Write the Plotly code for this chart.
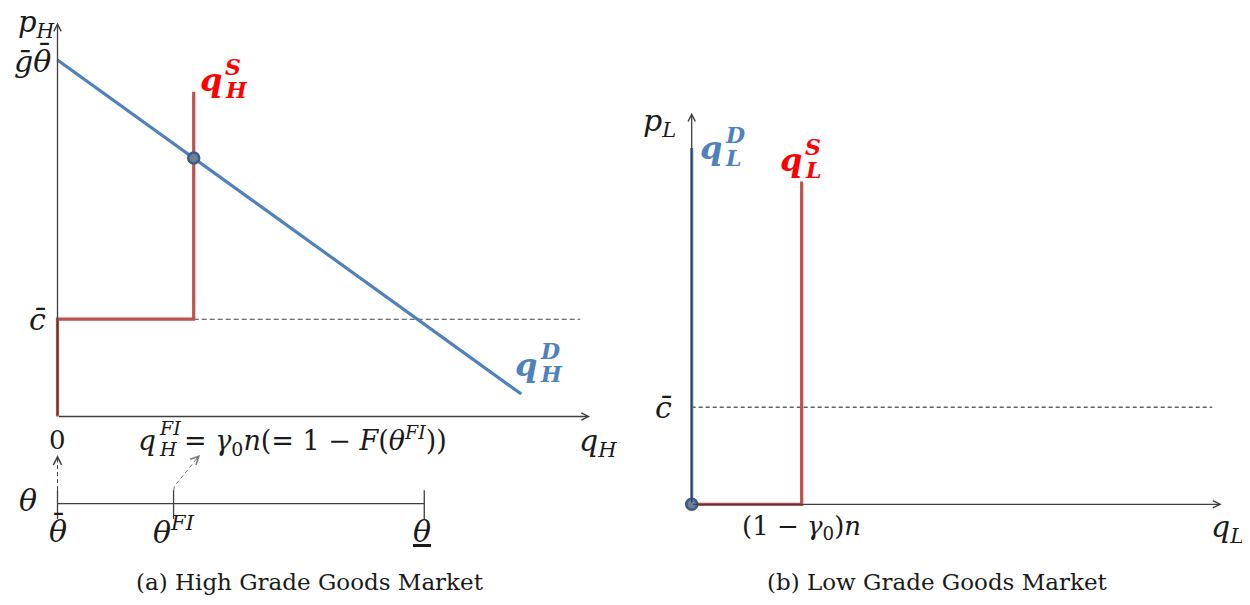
import plotly.graph_objects as go

# ---------------- Panel (a): High grade goods market ----------------
axis_len_a = 10.0            # length of q_H and p_H axes (data units)
g_theta_bar = 9.05           # demand intercept  g-bar * theta-bar
demand_end_q = 8.75          # end of drawn demand line
demand_end_p = 0.57
c_bar_a = 2.47               # cost level c-bar
q_fi = 2.57                  # q_H^FI = gamma0 n
supply_top_a = 8.24
dash_end_a = 9.86
eq_p_a = g_theta_bar - q_fi * (g_theta_bar - demand_end_p) / demand_end_q

# theta line under panel (a)
theta_line_y = -2.21
theta_tick_lo, theta_tick_hi = -2.60, -1.87
theta_bar_pos = 0.0
theta_fi_pos = 2.19
theta_low_pos = 6.92

# ---------------- Panel (b): Low grade goods market ----------------
axis_len_b = 10.0
demand_top_b = 9.10
supply_q_b = 2.075           # (1 - gamma0) n
supply_top_b = 8.24
c_bar_b = 2.48
dash_end_b = 9.82

RED = "#C0504D"
BLUE = "#4F81BD"
AX = "#404040"
TXT = "#1a1a1a"
MATH = "DejaVu Serif"
CAP = "DejaVu Serif"

fig = go.Figure()

# --- panel a traces ---
fig.add_trace(go.Scatter(x=[q_fi, dash_end_a], y=[c_bar_a, c_bar_a], mode="lines",
                         line=dict(color="#444444", width=1.1, dash="5px,3px"), xaxis="x", yaxis="y"))
fig.add_trace(go.Scatter(x=[0, demand_end_q], y=[g_theta_bar, demand_end_p], mode="lines",
                         line=dict(color=BLUE, width=3.2), xaxis="x", yaxis="y"))
fig.add_trace(go.Scatter(x=[0, 0, q_fi, q_fi], y=[0, c_bar_a, c_bar_a, supply_top_a], mode="lines",
                         line=dict(color=RED, width=3.2), xaxis="x", yaxis="y"))
fig.add_trace(go.Scatter(x=[q_fi], y=[eq_p_a], mode="markers",
                         marker=dict(size=11, color="#6f7f94", line=dict(color="#3b5b8c", width=2.5)),
                         xaxis="x", yaxis="y"))
# theta line and ticks
fig.add_trace(go.Scatter(x=[theta_bar_pos, theta_low_pos], y=[theta_line_y, theta_line_y], mode="lines",
                         line=dict(color=AX, width=1.3), xaxis="x", yaxis="y"))
for tp in [theta_bar_pos, theta_fi_pos, theta_low_pos]:
    fig.add_trace(go.Scatter(x=[tp, tp], y=[theta_tick_lo, theta_tick_hi], mode="lines",
                             line=dict(color=AX, width=1.3), xaxis="x", yaxis="y"))
# dashed pointer lines
ptr1_x, ptr1_y = [0.0, 0.0], [-1.87, -1.05]
ptr2_x, ptr2_y = [theta_fi_pos, 2.21, 2.64], [-1.87, -1.76, -1.05]
fig.add_trace(go.Scatter(x=ptr1_x, y=ptr1_y, mode="lines",
                         line=dict(color="#444444", width=1, dash="4px,3px"), xaxis="x", yaxis="y"))
fig.add_trace(go.Scatter(x=ptr2_x, y=ptr2_y, mode="lines",
                         line=dict(color="#777777", width=1, dash="4px,3px"), xaxis="x", yaxis="y"))

# --- panel b traces ---
fig.add_trace(go.Scatter(x=[0, dash_end_b], y=[c_bar_b, c_bar_b], mode="lines",
                         line=dict(color="#111111", width=1, dash="4px,3px"), xaxis="x2", yaxis="y2"))
fig.add_trace(go.Scatter(x=[0, supply_q_b, supply_q_b], y=[0, 0, supply_top_b], mode="lines",
                         line=dict(color=RED, width=3.2), xaxis="x2", yaxis="y2"))
fig.add_trace(go.Scatter(x=[0, 0], y=[0, demand_top_b], mode="lines",
                         line=dict(color=BLUE, width=3.2), xaxis="x2", yaxis="y2"))
fig.add_trace(go.Scatter(x=[0], y=[0], mode="markers",
                         marker=dict(size=11, color="#6f7f94", line=dict(color="#3b5b8c", width=2.5)),
                         xaxis="x2", yaxis="y2"))

ann = []
def arrow(xr, yr, x0, y0, x1, y1, color=AX, width=1.3, size=1.1):
    ann.append(dict(xref=xr, yref=yr, axref=xr, ayref=yr, x=x1, y=y1, ax=x0, ay=y0,
                    showarrow=True, arrowhead=5, arrowsize=size, arrowwidth=width,
                    arrowcolor=color, standoff=0, startstandoff=0, text=""))

# axes (drawn with arrowheads)
arrow("x", "y", 0, 0, axis_len_a + 0.05, 0)
arrow("x", "y", 0, 0, 0, axis_len_a)
arrow("x2", "y2", 0, 0, axis_len_b, 0)
arrow("x2", "y2", 0, 0, 0, axis_len_b)
# heads of dashed pointers
arrow("x", "y", 0, -1.2, 0, -0.98, color="#444444", width=1, size=1.6)
arrow("x", "y", 2.58, -1.13, 2.69, -0.98, color="#777777", width=1, size=1.6)

def label(xr, yr, x, y, text, size=28, color=TXT, xanchor="center", yanchor="middle",
          xshift=0, yshift=0, family=MATH):
    ann.append(dict(xref=xr, yref=yr, x=x, y=y, text=text, showarrow=False,
                    xanchor=xanchor, yanchor=yanchor, xshift=xshift, yshift=yshift,
                    borderpad=0, font=dict(family=family, size=size, color=color)))

def stacked(xr, yr, x, y, base, sub, sup, size=30, color=TXT, bold=False):
    """Base letter with stacked subscript / superscript to its right."""
    wrap = (lambda s: "<b><i>%s</i></b>" % s) if bold else (lambda s: "<i>%s</i>" % s)
    label(xr, yr, x, y, wrap(base), size, color, xanchor="right", xshift=0)
    if sub:
        label(xr, yr, x, y, wrap(sub), round(size * 0.68), color, xanchor="left",
              xshift=1, yshift=-size * 0.30)
    if sup:
        label(xr, yr, x, y, wrap(sup), round(size * 0.68), color, xanchor="left",
              xshift=1, yshift=size * 0.42)

def macron(xr, yr, x, y, size=30, xshift=0, yshift=6):
    label(xr, yr, x, y, "¯", size, xanchor="center", xshift=xshift, yshift=yshift)

# panel a labels
label("x", "y", -0.39, 9.95, "<i>p<sub>H</sub></i>", 29)
label("x", "y", -0.10, 9.0, "<i>g\u0304θ</i>", 30, xanchor="right")
macron("x", "y", -0.10, 9.0, 30, xshift=-8, yshift=7)
label("x", "y", -0.38, 2.45, "<i>c\u0304</i>", 30)
label("x", "y", 0.0, -0.6, "0", 26)
stacked("x", "y", 1.88, -0.6, "q", "H", "FI", 28)
label("x", "y", 1.88, -0.6, "= <i>γ</i><sub>0</sub><i>n</i>(= 1 − <i>F</i>(<i>θ<sup>FI</sup></i>))",
      27, xanchor="left", xshift=26)
label("x", "y", 10.2, -0.65, "<i>q<sub>H</sub></i>", 30)
label("x", "y", -0.56, -2.12, "<i>θ</i>", 30)
label("x", "y", 0.0, -2.93, "<i>θ</i>", 30)
macron("x", "y", 0.0, -2.93, 30, xshift=1, yshift=7)
label("x", "y", 2.2, -2.9, "<i>θ<sup>FI</sup></i>", 30)
label("x", "y", 6.88, -2.93, "<i><u>θ</u></i>", 30)
stacked("x", "y", 3.12, 8.54, "q", "H", "S", 32, color="#FF0000", bold=True)
stacked("x", "y", 9.07, 1.31, "q", "H", "D", 32, color=BLUE, bold=True)

# panel b labels
label("x2", "y2", -0.6, 9.74, "<i>p<sub>L</sub></i>", 30)
stacked("x2", "y2", 0.59, 9.1, "q", "L", "D", 32, color=BLUE, bold=True)
stacked("x2", "y2", 2.1, 8.79, "q", "L", "S", 32, color="#FF0000", bold=True)
label("x2", "y2", -0.54, 2.48, "<i>c\u0304</i>", 30)
label("x2", "y2", 2.08, -0.58, "(1 − <i>γ</i><sub>0</sub>)<i>n</i>", 26)
label("x2", "y2", 10.1, -0.62, "<i>q<sub>L</sub></i>", 30)

# captions
ann.append(dict(xref="paper", yref="paper", x=0.2416, y=0.0512, text="(a) High Grade Goods Market",
                showarrow=False, xanchor="center", yanchor="middle",
                font=dict(family=CAP, size=23, color=TXT)))
ann.append(dict(xref="paper", yref="paper", x=0.7432, y=0.0512, text="(b) Low Grade Goods Market",
                showarrow=False, xanchor="center", yanchor="middle",
                font=dict(family=CAP, size=23, color=TXT)))

# page has an 8px body margin: origins below are in figure pixels
oxa, oya = 49.5, 408.5
oxb, oyb = 683.7, 496.3
fig.update_layout(
    width=1250, height=605, margin=dict(l=0, r=0, t=0, b=0),
    paper_bgcolor="white", plot_bgcolor="white", showlegend=False,
    xaxis=dict(domain=[0, 0.5], range=[-oxa / 53, (625 - oxa) / 53], visible=False),
    yaxis=dict(domain=[0, 1], range=[(oya - 605) / 39.4, oya / 39.4], visible=False),
    xaxis2=dict(domain=[0.5, 1], range=[(625 - oxb) / 53, (1250 - oxb) / 53], visible=False),
    yaxis2=dict(domain=[0, 1], range=[(oyb - 605) / 39.16, oyb / 39.16], visible=False, anchor="x2"),
    annotations=ann,
)

fig.write_html("out.html")
